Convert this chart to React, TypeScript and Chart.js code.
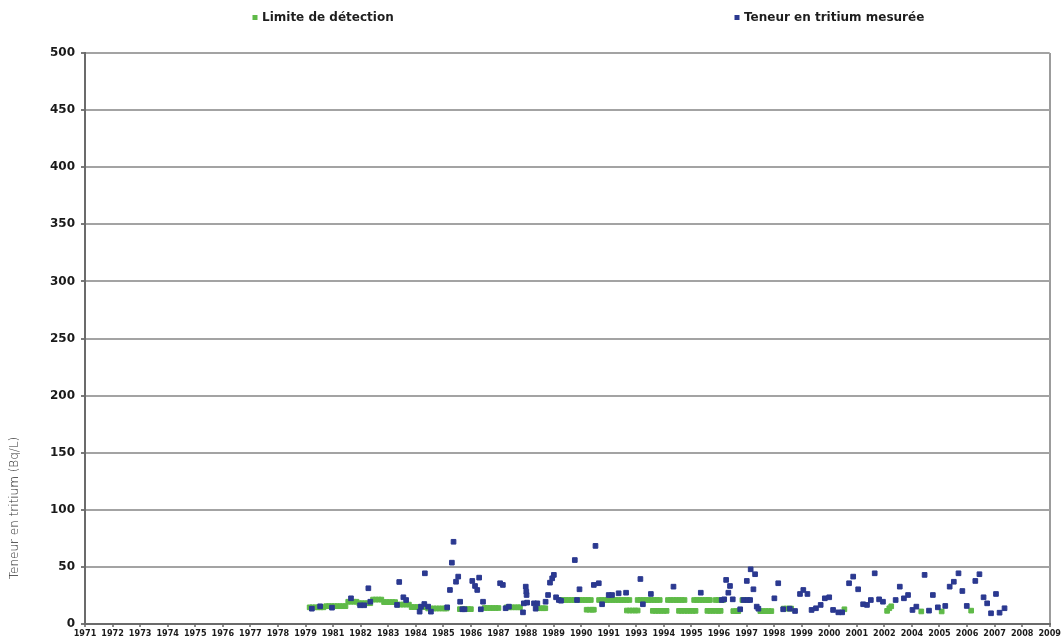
import { useEffect, useRef } from 'react';
import { Chart, registerables } from 'chart.js';

Chart.register(...registerables);

// Year labels shown along the time axis (one per tick, evenly spaced)
const yearLabels = [
  '1971', '1972', '1973', '1974', '1975', '1976', '1977', '1978', '1979',
  '1981', '1982', '1983', '1984', '1985', '1986', '1987', '1988', '1989', '1990', '1991',
  '1993', '1994', '1995', '1996', '1997', '1998', '1999', '2000', '2001', '2002',
  '2004', '2005', '2006', '2007', '2008', '2009',
];

const yTicks = [0, 50, 100, 150, 200, 250, 300, 350, 400, 450, 500];

const seriesNames = ['Limite de détection', 'Teneur en tritium mesurée'];
const seriesColors = ['#5fba48', '#2b3990'];

// [axis position in year-tick units, Bq/L]
const measured: [number, number][] = [
  [8.23, 13.4], [8.53, 15.5], [8.96, 14.3], [9.65, 22.5], [9.98, 16.4], [10.13, 16.4],
  [10.28, 31.3], [10.35, 19.5], [11.32, 16.7], [11.4, 36.8], [11.55, 23.4], [11.65, 21.0],
  [12.14, 10.8], [12.19, 15.2], [12.31, 17.5], [12.33, 44.4], [12.45, 15.2], [12.55, 10.8],
  [13.14, 14.6], [13.24, 29.8], [13.31, 53.7], [13.37, 72.0], [13.46, 37.0], [13.54, 41.5],
  [13.61, 19.5], [13.69, 12.9], [13.77, 12.9], [14.05, 37.7], [14.15, 33.3], [14.23, 29.8],
  [14.3, 40.6], [14.36, 12.9], [14.44, 19.5],
  [15.06, 35.7], [15.16, 34.2], [15.26, 13.8], [15.38, 15.2], [15.89, 10.2], [15.92, 18.1],
  [15.99, 32.7], [16.01, 28.3], [16.02, 25.4], [16.04, 18.7], [16.29, 18.1], [16.35, 13.4],
  [16.41, 18.1], [16.71, 19.5], [16.8, 25.4], [16.87, 36.2], [16.95, 40.0], [17.01, 43.0],
  [17.09, 23.4], [17.19, 21.0], [17.27, 20.4], [17.77, 56.0], [17.85, 21.0], [17.94, 30.4],
  [18.46, 34.2], [18.52, 68.4], [18.64, 35.7], [18.76, 17.3], [19.0, 25.4], [19.12, 25.4],
  [19.36, 26.9], [19.63, 27.4], [20.15, 39.4], [20.24, 17.3], [20.53, 26.3], [21.35, 32.7],
  [22.34, 27.4], [23.1, 21.0], [23.19, 21.6], [23.26, 38.6], [23.34, 27.4], [23.4, 33.3],
  [23.5, 21.6], [23.77, 12.9], [23.89, 21.0], [24.01, 37.7],
  [24.03, 21.0], [24.13, 21.0], [24.15, 47.9], [24.25, 30.4], [24.31, 43.6], [24.37, 15.2],
  [24.43, 13.4], [25.01, 22.5], [25.15, 35.7], [25.33, 12.9], [25.57, 13.4], [25.76, 11.4],
  [25.94, 26.3], [26.06, 29.8], [26.21, 26.3], [26.36, 12.3], [26.52, 13.8], [26.69, 16.7],
  [26.84, 22.5], [27.0, 23.4], [27.14, 12.3], [27.33, 10.2], [27.47, 10.2], [27.72, 35.7],
  [27.87, 41.5], [28.05, 30.4], [28.23, 17.3], [28.37, 16.7], [28.51, 21.0], [28.65, 44.4],
  [28.81, 21.6], [28.95, 19.5], [29.41, 21.0], [29.56, 32.7], [29.71, 22.5], [29.86, 25.4],
  [30.02, 12.3], [30.16, 15.2], [30.46, 43.0], [30.62, 11.7], [30.76, 25.4], [30.94, 14.6],
  [31.21, 15.8], [31.37, 32.7], [31.52, 37.0], [31.69, 44.4], [31.83, 28.9], [31.99, 15.8],
  [32.3, 37.7], [32.45, 43.6], [32.6, 23.4], [32.73, 18.1], [32.87, 9.4], [33.05, 26.3],
  [33.18, 9.9], [33.36, 13.8],
];

// Detection limit reported for each sample [axis position, Bq/L]
const detectionLimit: [number, number][] = [
  [8.15, 14.6], [8.25, 14.6], [8.35, 14.6], [8.45, 14.6], [8.55, 14.6], [8.65, 14.6],
  [8.75, 15.6], [8.85, 15.6], [8.95, 15.6], [9.05, 15.6], [9.15, 15.6], [9.25, 15.6], [9.35, 15.6], [9.45, 15.6],
  [9.55, 19.5], [9.65, 19.5], [9.75, 19.5], [9.85, 19.5],
  [9.95, 18.2], [10.05, 18.2], [10.15, 18.2], [10.25, 18.2], [10.35, 18.2],
  [10.45, 21.4], [10.55, 21.4], [10.65, 21.4], [10.75, 21.4],
  [10.85, 19.2], [10.95, 19.2], [11.05, 19.2], [11.15, 19.2], [11.25, 19.2],
  [11.35, 17.0], [11.45, 17.0], [11.55, 17.0], [11.65, 17.0], [11.75, 17.0],
  [11.85, 14.8], [11.95, 14.8], [12.05, 14.8], [12.15, 14.8], [12.25, 14.8], [12.35, 14.8],
  [12.45, 13.6], [12.55, 13.6], [12.65, 13.6], [12.75, 13.6], [12.85, 13.6], [12.95, 13.6], [13.05, 13.6], [13.12, 13.6],
  [13.6, 13.0], [13.7, 13.0], [13.8, 13.0], [13.9, 13.0], [14.0, 13.0],
  [14.5, 14.0], [14.6, 14.0], [14.7, 14.0], [14.8, 14.0], [14.9, 14.0], [15.0, 14.0],
  [15.3, 14.6], [15.4, 14.6], [15.5, 14.6], [15.6, 14.6], [15.7, 14.6], [15.78, 14.6],
  [16.42, 13.8], [16.52, 13.8], [16.62, 13.8], [16.7, 13.8],
  [17.25, 21.0], [17.35, 21.0], [17.45, 21.0], [17.55, 21.0], [17.65, 21.0], [17.75, 21.0],
  [17.85, 21.0], [17.95, 21.0], [18.05, 21.0], [18.15, 21.0], [18.25, 21.0], [18.35, 21.0],
  [18.65, 21.0], [18.75, 21.0], [18.85, 21.0], [18.95, 21.0], [19.05, 21.0], [19.15, 21.0],
  [19.25, 21.0], [19.35, 21.0], [19.45, 21.0], [19.55, 21.0], [19.65, 21.0], [19.75, 21.0],
  [20.05, 21.0], [20.15, 21.0], [20.25, 21.0], [20.35, 21.0], [20.45, 21.0], [20.55, 21.0],
  [20.65, 21.0], [20.75, 21.0], [20.85, 21.0],
  [21.15, 21.0], [21.25, 21.0], [21.35, 21.0], [21.45, 21.0], [21.55, 21.0], [21.65, 21.0], [21.75, 21.0],
  [22.1, 21.0], [22.2, 21.0], [22.3, 21.0], [22.4, 21.0], [22.5, 21.0], [22.6, 21.0], [22.67, 21.0],
  [22.88, 21.0], [22.98, 21.0], [23.08, 21.0], [23.15, 21.0],
  [23.85, 21.0], [23.95, 21.0], [24.05, 21.0],
  [18.2, 12.5], [18.3, 12.5], [18.4, 12.5], [18.46, 12.5],
  [19.66, 11.8], [19.76, 11.8], [19.86, 11.8], [19.96, 11.8], [20.05, 11.8],
  [20.6, 11.5], [20.7, 11.5], [20.8, 11.5], [20.9, 11.5], [21.0, 11.5], [21.1, 11.5],
  [21.55, 11.5], [21.65, 11.5], [21.75, 11.5], [21.85, 11.5], [21.95, 11.5], [22.05, 11.5], [22.15, 11.5],
  [22.58, 11.5], [22.68, 11.5], [22.78, 11.5], [22.88, 11.5], [22.98, 11.5], [23.06, 11.5],
  [23.52, 11.3], [23.62, 11.3], [23.7, 11.3],
  [24.5, 11.3], [24.6, 11.3], [24.7, 11.3], [24.8, 11.3], [24.9, 11.3],
  [25.35, 13.5], [25.45, 13.5], [25.55, 13.5], [25.62, 13.5],
  [27.55, 12.9], [29.1, 11.5], [29.18, 13.8], [29.25, 15.5],
  [30.34, 11.0], [31.08, 11.0], [32.15, 11.7],
];

const yTitle = 'Teneur en tritium (Bq/L)';

const toPoints = (rows: [number, number][]) => rows.map(([x, y]) => ({ x, y }));

// Legend drawn as two items spread across the top band
const topLegend = {
  id: 'topLegend',
  afterDraw(chart: Chart) {
    const { ctx } = chart;
    const items = [
      { text: seriesNames[0], color: seriesColors[0], x: 255 },
      { text: seriesNames[1], color: seriesColors[1], x: 737 },
    ];
    ctx.save();
    ctx.font = 'bold 12px "DejaVu Sans", sans-serif';
    ctx.textBaseline = 'middle';
    ctx.textAlign = 'left';
    for (const it of items) {
      ctx.fillStyle = it.color;
      ctx.fillRect(it.x - 2.5, 15, 5, 5);
      ctx.fillStyle = '#1e1e1e';
      ctx.fillText(it.text, it.x + 7, 17.5);
    }
    ctx.restore();
  },
};

// Vertical axis title, set low beside the lower ticks
const sideTitle = {
  id: 'sideTitle',
  afterDraw(chart: Chart) {
    const { ctx } = chart;
    ctx.save();
    ctx.translate(15, 508);
    ctx.rotate(-Math.PI / 2);
    ctx.font = '200 12px "DejaVu Sans", sans-serif';
    ctx.fillStyle = '#2a2a2a';
    ctx.textAlign = 'center';
    ctx.textBaseline = 'middle';
    ctx.fillText(yTitle, 0, 0);
    ctx.restore();
  },
};

export default function App() {
  const canvasRef = useRef<HTMLCanvasElement | null>(null);

  useEffect(() => {
    const canvas = canvasRef.current;
    if (!canvas) return;
    const lastIndex = yearLabels.length - 1;
    const chart = new Chart(canvas, {
      type: 'scatter',
      data: {
        datasets: [
          {
            label: seriesNames[1],
            data: toPoints(measured),
            backgroundColor: seriesColors[1],
            borderColor: seriesColors[1],
            pointStyle: 'rect',
            pointRadius: 3.3,
            borderWidth: 1,
            order: 0,
          },
          {
            label: seriesNames[0],
            data: toPoints(detectionLimit),
            backgroundColor: seriesColors[0],
            borderColor: seriesColors[0],
            pointStyle: 'rect',
            pointRadius: 3.3,
            borderWidth: 1,
            order: 1,
          },
        ],
      },
      options: {
        responsive: false,
        animation: false,
        layout: { padding: { top: 53, right: 10, left: 0, bottom: 0 } },
        plugins: {
          legend: { display: false },
          tooltip: { enabled: false },
        },
        scales: {
          x: {
            type: 'linear',
            min: 0,
            max: lastIndex,
            afterFit: (scale: any) => { scale.height = 15; },
            afterBuildTicks: (scale: any) => {
              scale.ticks = yearLabels.map((_, i) => ({ value: i }));
            },
            ticks: {
              autoSkip: false,
              maxRotation: 0,
              padding: 1,
              color: '#1a1a1a',
              font: { family: "'Liberation Sans Narrow', 'DejaVu Sans Condensed', sans-serif", size: 9, weight: 'bold' },
              callback: (v: any) => yearLabels[Math.round(Number(v))] ?? '',
            },
            grid: {
              drawOnChartArea: true,
              color: (c: any) => (c.tick && c.tick.value === lastIndex ? '#9c9c9c' : 'rgba(0,0,0,0)'),
              lineWidth: 2,
              tickLength: 3,
              tickColor: '#8a8a8a',
            },
            border: { color: '#6b6b6b', width: 2 },
          },
          y: {
            min: 0,
            max: 500,
            afterFit: (scale: any) => { scale.width = 85; },
            afterBuildTicks: (scale: any) => {
              scale.ticks = yTicks.map((v) => ({ value: v }));
            },
            ticks: {
              padding: 6,
              color: '#1a1a1a',
              font: { family: '"DejaVu Sans", sans-serif', size: 12, weight: 'bold' },
            },
            grid: {
              color: '#a3a3a3',
              lineWidth: 2,
              tickLength: 4,
              tickColor: '#7a7a7a',
            },
            border: { color: '#6b6b6b', width: 2 },
          },
        },
      },
      plugins: [topLegend, sideTitle],
    });
    return () => chart.destroy();
  }, []);

  return (
    <div style={{ position: 'absolute', left: 0, top: 0, width: 1062, height: 639, background: '#ffffff' }}>
      <canvas ref={canvasRef} width={1062} height={639} />
    </div>
  );
}
